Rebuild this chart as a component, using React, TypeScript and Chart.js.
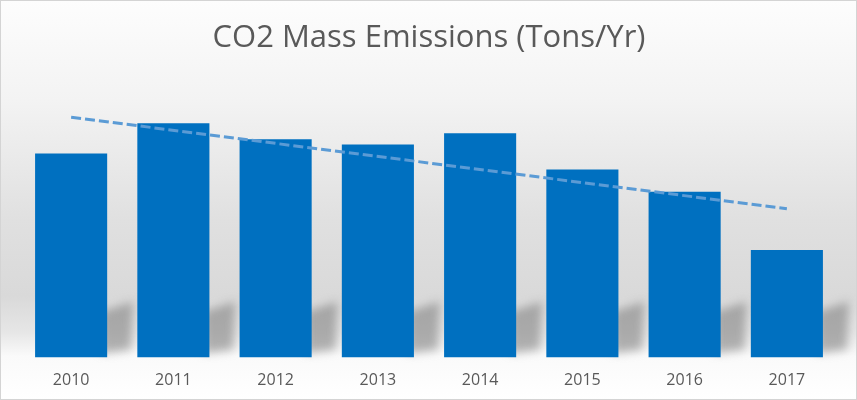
import React, { useEffect, useRef } from "react";
import { Chart, registerables } from "chart.js";

Chart.register(...registerables);

const years = ["2010", "2011", "2012", "2013", "2014", "2015", "2016", "2017"];
const emissions = [203, 233, 217, 212, 223, 187, 165, 107];
const trendline = [239, null, null, null, null, null, null, 148];
const titleText = "CO2 Mass Emissions (Tons/Yr)";

const backgroundPlugin = {
  id: "bgPlugin",
  beforeDraw(chart: any) {
    const { ctx, width } = chart;
    const height = 400;
    ctx.save();
    const g = ctx.createLinearGradient(0, 0, 0, height);
    g.addColorStop(0, "#fdfdfd");
    g.addColorStop(0.25, "#f3f3f3");
    g.addColorStop(0.55, "#e0e0e0");
    g.addColorStop(0.74, "#d9d9d9");
    g.addColorStop(0.83, "#e6e6e6");
    g.addColorStop(0.89, "#fafafa");
    g.addColorStop(1, "#ffffff");
    ctx.fillStyle = g;
    ctx.fillRect(0, 0, width, chart.height);
    ctx.strokeStyle = "#d4d4d4";
    ctx.lineWidth = 1;
    ctx.strokeRect(0.5, 0.5, width - 1, height - 1);
    ctx.restore();
  },
  beforeDatasetsDraw(chart: any) {
    const { ctx } = chart;
    const meta = chart.getDatasetMeta(0);
    const bottom = chart.chartArea.bottom;
    ctx.save();
    ctx.filter = "blur(5px)";
    ctx.fillStyle = "rgba(110,110,110,0.5)";
    meta.data.forEach((bar: any) => {
      const w = bar.width;
      const right = bar.x + w / 2;
      ctx.beginPath();
      ctx.moveTo(right - 6, bottom - 46);
      ctx.lineTo(right + 26, bottom - 56);
      ctx.lineTo(right + 24, bottom - 8);
      ctx.lineTo(right - 6, bottom - 4);
      ctx.closePath();
      ctx.fill();
    });
    ctx.restore();
  },
};

export default function App() {
  const ref = useRef<HTMLCanvasElement | null>(null);
  useEffect(() => {
    if (!ref.current) return;
    const chart = new Chart(ref.current, {
      type: "bar",
      data: {
        labels: years,
        datasets: [
          {
            type: "bar",
            label: "CO2",
            data: emissions,
            backgroundColor: "#0070c0",
            borderWidth: 0,
            barPercentage: 0.705,
            categoryPercentage: 1,
            order: 1,
          },
          {
            type: "line",
            label: "Trend",
            data: trendline as any,
            borderColor: "#5b9bd5",
            borderWidth: 3,
            borderDash: [10, 4],
            pointRadius: 0,
            spanGaps: true,
            fill: false,
            order: 0,
          },
        ],
      },
      options: {
        animation: false,
        responsive: true,
        maintainAspectRatio: false,
        layout: { padding: { left: 20, right: 19, top: 0, bottom: 0.4 } },
        plugins: {
          legend: { display: false },
          tooltip: { enabled: false },
          title: {
            display: true,
            text: titleText,
            color: "#595959",
            font: { family: "'Open Sans'", size: 31, weight: "normal" as any, lineHeight: 1.2 },
            padding: { top: 19.4, bottom: 19.4 },
          },
        },
        scales: {
          x: {
            grid: { display: false, drawTicks: false },
            border: { display: false },
            ticks: {
              color: "#595959",
              font: { family: "'Open Sans'", size: 16, lineHeight: 1.2 },
              padding: 13.4,
            },
          },
          y: {
            display: false,
            min: 0,
            max: 280,
          },
        },
      },
      plugins: [backgroundPlugin],
    });
    return () => chart.destroy();
  }, []);
  return (
    <div style={{ position: "fixed", left: 0, top: 0, width: 857, height: 400, overflow: "hidden" }}>
      <div style={{ position: "relative", width: 857, height: 404 }}>
        <canvas ref={ref} />
      </div>
    </div>
  );
}
